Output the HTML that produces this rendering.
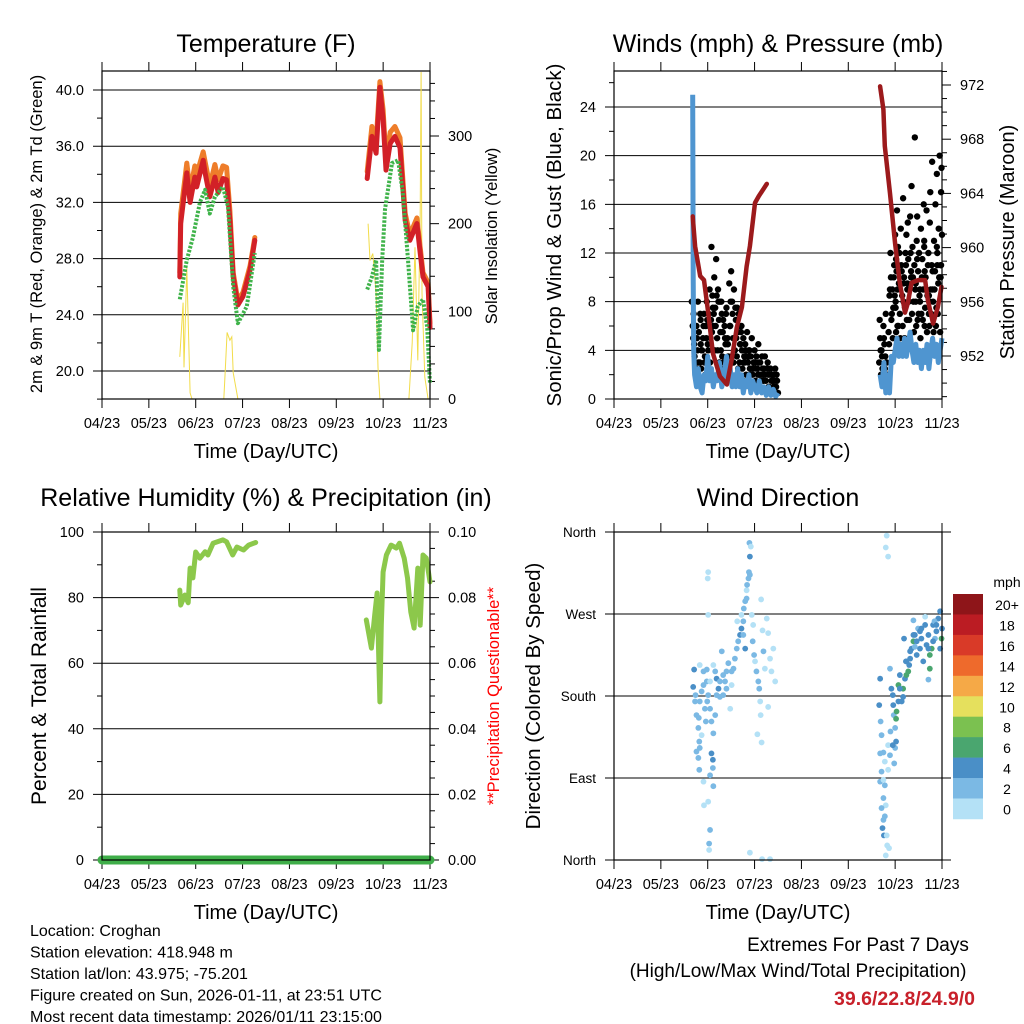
<!DOCTYPE html>
<html><head><meta charset="utf-8">
<style>
html,body{margin:0;padding:0;background:#fff;}
svg{display:block;font-family:"Liberation Sans",Arial,sans-serif;}
</style></head>
<body>
<svg id="c" width="1024" height="1024" viewBox="0 0 1024 1024" xmlns="http://www.w3.org/2000/svg"></svg>
<script>
// ---------- data (time in days from first tick, 0..7) ----------
const xTickLabels = ["04/23","05/23","06/23","07/23","08/23","09/23","10/23","11/23"];
const tempT = [[1.66,1.68,1.81,1.88,1.98,2.02,2.16,2.20,2.30,2.41,2.48,2.58,2.66,2.73,2.80,2.90,3.01,3.16,3.26],
               [5.66,5.76,5.85,5.93,6.00,6.06,6.15,6.25,6.36,6.47,6.57,6.72,6.79,6.85,6.96,7.0]];
const tempRed = [[26.7,30.5,34.1,32.0,33.8,33.1,35.0,34.1,32.4,33.8,32.7,33.7,33.6,30.7,26.7,24.7,25.3,27.2,29.3],
                 [33.7,36.7,35.5,40.2,37.9,34.3,36.2,36.7,35.9,30.7,29.3,30.5,28.4,26.7,26.0,23.1]];
const tempOrange = [[27.0,31.2,34.8,32.8,34.6,34.0,35.6,34.9,33.2,34.7,33.6,34.6,34.5,31.4,27.0,25.0,25.6,27.5,29.5],
                    [34.2,37.4,36.3,40.6,38.6,35.0,37.0,37.4,36.6,31.2,29.7,30.9,28.8,27.0,26.3,23.4]];
const dewT = [[1.66,1.81,1.94,2.09,2.20,2.30,2.41,2.58,2.69,2.80,2.90,3.09,3.26],
              [5.66,5.76,5.85,5.91,5.98,6.04,6.19,6.32,6.42,6.53,6.64,6.74,6.85,6.94,7.0]];
const dewVals = [[25.1,27.9,29.5,32.0,32.9,31.2,32.4,33.1,31.7,26.0,23.4,24.6,28.4],
                 [25.8,26.7,27.9,21.5,27.9,31.5,34.8,35.0,32.7,27.9,22.9,24.6,25.1,23.1,19.1]];
const solarT = [[1.66,1.73,1.75,1.81,1.88,1.92],[2.60,2.62,2.67,2.73,2.77,2.80,2.90],
                [5.68,5.72,5.78,5.85,5.89,5.93,6.55,6.62,6.68,6.74,6.79,6.81,6.83,6.89,6.96]];
const solarVals = [[48,110,36,150,7,0],[0,22,76,67,71,30,0],
                   [200,158,166,121,36,0,0,64,173,44,212,373,121,25,0]];
const presT = [[1.68,1.73,1.84,1.92,2.01,2.11,2.26,2.41,2.51,2.62,2.73,2.83,2.90,3.01,3.09,3.26],
               [5.68,5.75,5.78,5.89,6.00,6.10,6.21,6.27,6.35,6.49,6.64,6.70,6.81,6.91,6.99]];
const presVals = [[962.3,960.1,957.9,957.6,955.2,952.2,950.5,949.9,951.7,954.1,955.6,958.6,960.1,963.3,963.8,964.7],
                  [971.9,970.2,967.5,964.0,960.3,957.4,955.2,955.9,957.4,957.6,957.6,956.1,954.4,955.6,957.1]];
const windT = [[1.68,1.69,1.70,1.72,1.76,1.80,1.84,1.88,1.92,1.96,2.00,2.04,2.08,2.12,2.16,2.20,2.25,2.30,2.35,2.40,2.44,2.48,2.52,2.56,2.60,2.64,2.68,2.72,2.76,2.80,2.84,2.88,2.92,2.96,3.00,3.05,3.10,3.15,3.20,3.25,3.30,3.35,3.40,3.45,3.50],
               [5.68,5.72,5.76,5.80,5.84,5.88,5.92,5.96,6.00,6.04,6.08,6.12,6.16,6.20,6.24,6.28,6.32,6.36,6.40,6.44,6.48,6.52,6.56,6.60,6.64,6.68,6.72,6.76,6.80,6.84,6.88,6.92,6.96,7.00]];
const windVals = [[25,10,4,2,1,2.5,1,0.5,2,1.5,3.5,1.5,2.5,1,2,1.5,3,1,2,3.5,1.5,2.5,1,2,1,2.5,1,2,0.5,1.5,1,2,0.5,1.5,1,0.5,1.5,0.5,1,0.3,1,0.3,0.8,0.2,0.5],
                  [2,1,3,0.5,2,0.5,3.5,3,4,5,3.5,4.5,3.5,5,3.5,4.5,5.5,4,3,4.5,3,4,2.5,4,3,4.5,2.5,4,5,3.5,4.5,3,4,5]];
const gustTimes = [1.66,1.68,1.70,1.71,1.73,1.74,1.76,1.78,1.79,1.81,1.83,1.85,1.86,1.88,1.90,1.92,1.94,1.96,1.98,2.00,2.02,2.04,2.06,2.08,2.10,2.12,2.14,2.16,2.18,2.20,2.22,2.24,2.26,2.28,2.30,2.32,2.34,2.36,2.38,2.40,2.42,2.44,2.46,2.48,2.50,2.52,2.54,2.56,2.58,2.60,2.62,2.64,2.66,2.68,2.70,2.72,2.74,2.76,2.78,2.80,2.82,2.84,2.86,2.88,2.90,2.92,2.94,2.96,2.98,3.00,3.02,3.04,3.06,3.08,3.10,3.12,3.14,3.16,3.18,3.20,3.22,3.24,3.26,3.28,3.30,3.32,3.34,3.36,3.38,3.40,3.42,3.44,3.46,3.48,3.50,
 1.75,1.95,2.05,2.15,2.25,2.35,2.45,2.55,2.65,2.75,2.85,2.95,3.05,1.85,2.03,2.13,2.23,2.33,2.43,2.53,2.63,2.73,2.83,2.93,3.03,
 1.69,1.72,1.77,1.80,1.84,1.87,1.91,1.93,1.97,1.99,2.01,2.07,2.09,2.11,2.17,2.19,2.21,2.27,2.29,2.31,2.37,2.39,2.41,2.47,2.49,2.51,2.57,2.59,2.61,2.67,2.69,2.71,2.77,2.79,2.81,2.87,2.89,2.91,2.97,2.99,3.01,3.07,3.09,3.11,3.17,3.19,3.21,3.27,3.29,3.31,3.37,3.39,3.41,3.45,3.47,
 5.66,5.67,5.68,5.70,5.71,5.72,5.74,5.75,5.77,5.78,5.80,5.82,5.84,5.86,5.88,5.90,5.91,5.92,5.94,5.96,5.98,6.00,6.01,6.03,6.05,6.06,6.08,6.10,6.12,6.13,6.15,6.17,6.19,6.21,6.22,6.24,6.26,6.28,6.30,6.32,6.34,6.35,6.37,6.39,6.41,6.42,6.44,6.46,6.48,6.49,6.51,6.53,6.55,6.56,6.58,6.60,6.62,6.63,6.65,6.67,6.69,6.71,6.72,6.74,6.76,6.78,6.79,6.81,6.83,6.85,6.86,6.88,6.90,6.92,6.93,6.95,6.97,6.98,7.00,
 5.95,6.02,6.07,6.11,6.16,6.20,6.25,6.31,6.36,6.40,6.45,6.50,6.54,6.59,6.64,6.68,6.73,6.77,6.82,6.87,6.91,6.96,6.04,6.27,6.47,6.61,6.75,6.89,6.99,
 5.69,5.73,5.76,5.79,5.83,5.87,5.89,5.93,5.97,5.99,6.02,6.05,6.09,6.14,6.18,6.23,6.29,6.33,6.38,6.43,6.47,6.52,6.57,6.62,6.66,6.70,6.74,6.80,6.84,6.89,6.94,6.98,6.01,6.09,6.18,6.26,6.34,6.44,6.53,6.63,6.72,6.80,6.90,6.97];
const gustValues = [8,6,7,4.5,5,3,6,4,8,5.5,3,6.5,2.5,4,5,7,3.5,6,8,4.5,7,9,5,12.5,8.5,6,10,7.5,11.5,5,9,6.5,8,4,7,5.5,3,6,4.5,7.5,5,3.5,9.5,6,10.5,8,5,9,4,6.5,3.5,5.5,7,3,4.5,6,2.5,5,3.5,4.5,2,5.5,3,4,2.5,3.5,5,2,3,4,1.5,3.5,2.5,4.5,2,3,1.5,3.5,2,2.5,3.5,1.5,2.5,3,1,2,2.5,1.5,2,1,1.5,2.5,1,1.5,0.5,
 2.5,2,3,4,3,2.5,2,3,2.5,1.5,1.5,1,1,4.5,6,7,8,6.5,4.5,7,7.5,4,3.5,2.5,2.5,
 5,3.5,5,3,7,4,6,3,5,6.5,4,6.5,5.5,7.5,6,8.5,4,5.5,8,3.5,5,7,3,6,8,3.5,4,7.5,5,6,4.5,5.5,3,3,4,3.5,4,2,2.5,3,3,2,3,2,2.5,1.5,2,2.5,2,1,2,1.5,2,1,2,
 3,6.5,5,2,4,3.5,1.5,6,4.5,2.5,7,3,1,5.5,8.5,12,10,6.5,9,7.5,11,13.5,8,10.5,6,12.5,9.5,7,14,11,8.5,16.5,10,7.5,12,13.5,9,11.5,6.5,15,10,17.5,12.5,8,11,21.5,9.5,13,6.5,10.5,12,8,14,7,11.5,9,13,6,10,15.5,8.5,12,7,14.5,9,11,19.5,8,13,10.5,16,7.5,12,9.5,14,20,11,17,13.5,
 5,5.5,6,5,6,5,6.5,5,7,5.5,6,7,5,6.5,7.5,5.5,6,7,5.5,6,7,5.5,15.5,14.5,15,16,17,18.5,19,
 4,2.5,5,3.5,2,4.5,9,7,10,8.5,11.5,9,12,10.5,9.5,11,8,12,10,9,11.5,8.5,10,12.5,9,11,8,10.5,9,12.5,10,11,7.5,9.5,8,9.5,10.5,8,9,10.5,8.5,9,11,10];
const rhT = [[1.66,1.68,1.77,1.84,1.88,1.94,2.00,2.09,2.20,2.26,2.37,2.58,2.66,2.79,2.88,3.02,3.13,3.28],
             [5.64,5.75,5.82,5.87,5.93,5.96,6.00,6.07,6.17,6.28,6.35,6.45,6.52,6.59,6.66,6.74,6.79,6.85,6.92,7.0]];
const rhVals = [[82.3,77.7,80.8,78.4,89,86,93.9,92,94,93,96.6,97.6,97,93,95.4,94.5,96,96.8],
                [73.2,64.6,74.7,81.4,48.2,71.6,87.8,93,96,95.1,96.6,92,86,75.6,70.7,89,71.6,93,92,84.8]];
const precipT = [0,7];
const precipVals = [0,0];
const dirTimes = [1.71,1.69,1.73,1.76,1.80,1.82,1.83,1.80,1.82,1.91,1.92,2.01,2.05,2.03,2.03,2.01,2.00,2.01,1.98,1.98,2.01,2.05,2.08,2.12,2.08,2.11,2.11,2.12,2.05,2.16,2.19,2.23,2.26,2.30,2.33,2.37,2.40,2.44,2.48,2.51,2.55,2.58,2.62,2.63,2.65,2.69,2.72,2.76,2.77,2.80,2.83,2.80,2.83,2.87,2.88,2.90,2.89,2.92,2.94,2.97,2.96,2.99,3.01,3.04,3.08,3.10,3.12,3.13,3.14,3.17,3.19,3.22,3.26,3.29,3.33,3.36,3.40,3.44,3.29,3.06,3.15,2.90,3.16,3.33,1.83,1.87,1.91,1.94,1.96,1.87,1.76,2.05,2.12,2.19,2.26,2.33,2.40,2.51,2.90,2.84,2.76,2.72,1.83,1.81,1.74,1.91,1.99,2.16,
 5.82,5.80,5.85,5.68,5.66,5.69,5.71,5.75,5.68,5.71,5.68,5.78,5.75,5.80,5.71,5.78,5.75,5.73,5.76,5.82,5.83,5.80,5.87,5.89,5.92,5.95,5.96,5.97,6.00,6.02,6.00,5.98,5.89,5.85,6.03,6.02,6.07,6.10,6.14,6.17,6.21,6.23,6.24,6.28,6.30,6.35,6.39,6.42,6.46,6.49,6.53,6.56,6.60,6.64,6.67,6.71,6.74,6.78,6.81,6.85,6.88,6.92,6.96,6.99,7.0,6.64,6.39,6.19,6.71,6.74,6.84,6.96,6.32,6.42,6.53,6.07,6.10,6.17,5.90,5.95,5.85,5.78,5.75,6.39,6.46,6.56,6.71,6.81,6.88,6.32,6.24];
const dirDegrees = [209,190,174,159,145,130,123,112,99,86,60,64,33,18,11,316,309,269,209,196,181,166,152,139,117,110,101,81,93,207,199,188,179,229,203,196,188,216,166,207,210,221,232,262,240,247,254,262,276,284,287,232,296,309,316,333,348,344,269,258,240,225,218,207,196,188,174,159,286,252,229,210,265,249,221,207,232,196,168,138,129,8,1,1,174,185,192,166,152,137,119,196,214,181,196,181,207,192,313,302,247,269,214,156,181,207,174,159,
 356,343,333,199,170,152,137,118,117,97,86,82,68,60,57,48,44,35,27,27,16,5,13,210,188,181,170,159,145,130,123,106,115,126,163,155,192,203,174,188,199,218,203,207,214,232,240,247,225,254,232,243,218,258,236,247,225,232,258,243,251,265,273,243,254,267,263,243,198,210,262,232,221,234,251,174,188,179,141,126,99,108,88,247,240,254,232,240,258,229,218];
const dirSpeeds = [5,5,3,3,3,3,3,3,3,1,1,1,3,3,1,1,1,1,3,3,3,3,3,3,5,5,3,3,3,3,5,5,3,3,3,3,3,3,1,3,3,3,3,1,3,5,5,3,3,3,3,5,1,3,3,5,3,1,1,1,3,3,1,3,3,3,1,1,1,1,3,1,1,1,1,1,1,1,1,1,1,1,1,1,3,3,3,3,3,1,3,1,1,3,3,3,3,1,3,3,3,1,1,3,3,3,3,3,
 1,1,1,5,5,3,3,3,3,3,3,3,3,1,3,3,3,5,5,1,1,1,1,3,5,5,5,3,3,5,3,3,3,1,7,7,7,5,5,7,5,5,7,7,5,5,7,5,5,3,5,5,5,5,5,5,7,7,5,3,5,5,5,7,5,1,3,5,3,7,3,5,5,3,5,5,5,5,3,5,1,1,1,5,5,5,5,5,5,5,5];
const speedBinLabels = ["20+","18","16","14","12","10","8","6","4","2","0"];
const speedBinColors = ["#8e1519","#bb1c23","#d93a28","#ee6a2c","#f5a947","#e5e05d","#7bc150","#4aa66f","#4a8fc7","#7bb9e4","#b4e1f6"];

// ---------- helpers ----------
const NS = "http://www.w3.org/2000/svg";
const svg = document.getElementById('c');
const TICK = 14.5;
function mk(tag, attrs, parent){ const e=document.createElementNS(NS,tag); for(const k in attrs) e.setAttribute(k,attrs[k]); (parent||svg).appendChild(e); return e; }
function txt(s, x, y, size, anchor, parent, extra){ const e=mk('text',Object.assign({x:x,y:y,'font-size':size,'text-anchor':anchor||'middle',fill:'#000'},extra||{}),parent); e.textContent=s; return e; }
function lin(d0,d1,r0,r1){ return v => r0 + (v-d0)*(r1-r0)/(d1-d0); }

function frame(p, name){
  const g = mk('g',{});
  
  
  return g;
}
function xAxis(g, p){
  const xs = lin(0,7,p.x0,p.x1);
  for(let i=0;i<xTickLabels.length;i++){
    const x = xs(i);
    mk('line',{x1:x,y1:p.y0-9,x2:x,y2:p.y0,stroke:'#000','stroke-width':1},g);
    mk('line',{x1:x,y1:p.y1,x2:x,y2:p.y1+9,stroke:'#000','stroke-width':1},g);
    const t = txt(xTickLabels[i], x, p.y1+29, TICK, 'middle', g);
    
    
  }
  const tt = txt('Time (Day/UTC)', (p.x0+p.x1)/2, p.y1+59, 20, 'middle', g);
  
  
  return xs;
}
function border(g,p){ mk('rect',{x:p.x0,y:p.y0,width:p.x1-p.x0,height:p.y1-p.y0,fill:'none',stroke:'#000','stroke-width':1.2},g); }
function polyline(g, xs, ys, T, V, attrs, name){
  const pts = T.map((t,i)=>xs(t).toFixed(1)+','+ys(V[i]).toFixed(1)).join(' ');
  const e = mk('polyline',Object.assign({points:pts,fill:'none'},attrs),g);
  
  
  return e;
}

// ---------- Panel 1: Temperature ----------
(function(){
  const p={x0:102,x1:430,y0:71,y1:399};
  const g=frame(p,'temperature-panel');
  const ys=lin(20,40,371,90), yr=lin(0,300,399,136);
  const xs=xAxis(g,p);
  const lab=[20,24,28,32,36,40];
  lab.forEach(v=>{ const y=ys(v); mk('line',{x1:p.x0-9,y1:y,x2:p.x1,y2:y,stroke:'#000','stroke-width':1},g);
    const t=txt(v.toFixed(1),p.x0-18,y+5,TICK,'end',g);  });
  for(let v=18;v<=41;v+=2){ if(v%4) mk('line',{x1:p.x0-5,y1:ys(v),x2:p.x0,y2:ys(v),stroke:'#000'},g); }
  [0,100,200,300].forEach(v=>{ const y=yr(v); mk('line',{x1:p.x1,y1:y,x2:p.x1+9,y2:y,stroke:'#000'},g);
    const t=txt(String(v),p.x1+18,y+5,TICK,'start',g);  });
  for(let v=20;v<=360;v+=20){ if(v%100) mk('line',{x1:p.x1,y1:yr(v),x2:p.x1+5,y2:yr(v),stroke:'#000'},g); }
  solarT.forEach((T,i)=>polyline(g,xs,yr,T,solarVals[i],{stroke:'#f2dc4a','stroke-width':1},'solar-line'));
  tempT.forEach((T,i)=>polyline(g,xs,ys,T,tempOrange[i],{stroke:'#ee7d2a','stroke-width':5,'stroke-linejoin':'round','stroke-linecap':'round'},'temp-9m-line'));
  tempT.forEach((T,i)=>polyline(g,xs,ys,T,tempRed[i],{stroke:'#d22027','stroke-width':5,'stroke-linejoin':'round','stroke-linecap':'round'},'temp-2m-line'));
  dewT.forEach((T,i)=>polyline(g,xs,ys,T,dewVals[i],{stroke:'#3fb34a','stroke-width':4,'stroke-dasharray':'2.5 1.5','stroke-linejoin':'round'},'dewpoint-line'));
  border(g,p);
  txt('Temperature (F)',266,52,25,'middle',g,{});
  txt('2m & 9m T (Red, Orange) & 2m Td (Green)',0,0,16.5,'middle',g,{transform:'translate(42,234) rotate(-90)',});
  txt('Solar Insolation (Yellow)',0,0,16.5,'middle',g,{transform:'translate(497,236) rotate(-90)',});
})();

// ---------- Panel 2: Winds & Pressure ----------
(function(){
  const p={x0:614,x1:942,y0:71,y1:399};
  const g=frame(p,'winds-panel');
  const ys=lin(0,24,399,107), yr=lin(952,972,356,85);
  const xs=xAxis(g,p);
  [0,4,8,12,16,20,24].forEach(v=>{ const y=ys(v); mk('line',{x1:p.x0-9,y1:y,x2:p.x1,y2:y,stroke:'#000'},g);
    const t=txt(String(v),p.x0-18,y+5,TICK,'end',g);  });
  for(let v=2;v<=26;v+=4) mk('line',{x1:p.x0-5,y1:ys(v),x2:p.x0,y2:ys(v),stroke:'#000'},g);
  [952,956,960,964,968,972].forEach(v=>{ const y=yr(v); mk('line',{x1:p.x1,y1:y,x2:p.x1+9,y2:y,stroke:'#000'},g);
    const t=txt(String(v),p.x1+18,y+5,TICK,'start',g);  });
  for(let v=949;v<=973;v++){ if(v%4) mk('line',{x1:p.x1,y1:yr(v),x2:p.x1+5,y2:yr(v),stroke:'#000'},g); }
  for(let i=0;i<gustTimes.length;i++){
    const c=mk('circle',{cx:xs(gustTimes[i]),cy:ys(gustValues[i]),r:3.2,fill:'#000'},g);
    
    
  }
  windT.forEach((T,i)=>polyline(g,xs,ys,T,windVals[i],{stroke:'#4f95d0','stroke-width':5,'stroke-linejoin':'round'},'wind-line'));
  presT.forEach((T,i)=>polyline(g,xs,yr,T,presVals[i],{stroke:'#9c1a1c','stroke-width':4.5,'stroke-linejoin':'round','stroke-linecap':'round'},'pressure-line'));
  border(g,p);
  txt('Winds (mph) & Pressure (mb)',778,52,25,'middle',g,{});
  txt('Sonic/Prop Wind & Gust (Blue, Black)',0,0,20.5,'middle',g,{transform:'translate(561,235) rotate(-90)',});
  txt('Station Pressure (Maroon)',0,0,20,'middle',g,{transform:'translate(1014,242) rotate(-90)',});
})();

// ---------- Panel 3: RH & Precip ----------
(function(){
  const p={x0:102,x1:430,y0:532,y1:860};
  const g=frame(p,'humidity-panel');
  const ys=lin(0,100,860,532), yr=lin(0,0.1,860,532);
  const xs=xAxis(g,p);
  [0,20,40,60,80,100].forEach(v=>{ const y=ys(v); mk('line',{x1:p.x0-9,y1:y,x2:p.x1+9,y2:y,stroke:'#000'},g);
    const t=txt(String(v),p.x0-18,y+5,TICK,'end',g);  
    const t2=txt((v/1000).toFixed(2),p.x1+18,y+5,TICK,'start',g);  });
  for(let v=10;v<=90;v+=20){ mk('line',{x1:p.x0-5,y1:ys(v),x2:p.x0,y2:ys(v),stroke:'#000'},g); }
  for(let v=5;v<100;v+=5){ if(v%20) mk('line',{x1:p.x1,y1:ys(v),x2:p.x1+5,y2:ys(v),stroke:'#000'},g); }
  rhT.forEach((T,i)=>polyline(g,xs,ys,T,rhVals[i],{stroke:'#8cc84b','stroke-width':5,'stroke-linejoin':'round','stroke-linecap':'round'},'rh-line'));
  polyline(g,xs,yr,precipT,precipVals,{stroke:'#3fae49','stroke-width':9,'stroke-linecap':'round'},'precip-line');
  border(g,p);
  txt('Relative Humidity (%) & Precipitation (in)',266,506,25,'middle',g,{});
  txt('Percent & Total Rainfall',0,0,21,'middle',g,{transform:'translate(46,696) rotate(-90)',});
  txt('**Precipitation Questionable**',0,0,16.5,'middle',g,{transform:'translate(499,696) rotate(-90)',fill:'#ff0000',});
})();

// ---------- Panel 4: Wind Direction ----------
(function(){
  const p={x0:614,x1:942,y0:532,y1:860};
  const g=frame(p,'wind-direction-panel');
  const ys=lin(0,360,860,532);
  const xs=xAxis(g,p);
  const dirLabels=["North","East","South","West","North"];
  dirLabels.forEach((s,i)=>{ const y=ys(i*90); mk('line',{x1:p.x0-9,y1:y,x2:p.x1+9,y2:y,stroke:'#000'},g);
    const t=txt(s,p.x0-18,y+5,TICK-1,'end',g);  });
  function colorFor(s){ const idx=Math.min(10,Math.floor(s/2)); return speedBinColors[10-idx]; }
  for(let i=0;i<dirTimes.length;i++){
    const c=mk('circle',{cx:xs(dirTimes[i]),cy:ys(dirDegrees[i]),r:2.9,fill:colorFor(dirSpeeds[i])},g);
    
    
  }
  border(g,p);
  txt('Wind Direction',778,506,25,'middle',g,{});
  txt('Direction (Colored By Speed)',0,0,20.5,'middle',g,{transform:'translate(540,696) rotate(-90)',});
  // colorbar
  const cb=mk('g',{},svg);
  
  
  const h=20.45;
  speedBinColors.forEach((col,i)=>{
    const r=mk('rect',{x:953,y:594+i*h,width:30,height:h+0.3,fill:col},cb);
    
    
    const t=txt(speedBinLabels[i],1007,594+i*h+16,14,'middle',cb);
    
    
  });
  txt('mph',1007,587,14,'middle',cb,{});
})();

// ---------- footer ----------
const foot=["Location: Croghan","Station elevation: 418.948 m","Station lat/lon: 43.975; -75.201","Figure created on Sun, 2026-01-11, at 23:51 UTC","Most recent data timestamp: 2026/01/11 23:15:00"];
foot.forEach((s,i)=>{ const t=txt(s,30,936+i*21.5,16,'start');   });
txt('Extremes For Past 7 Days',858,951,19,'middle',svg,{});
txt('(High/Low/Max Wind/Total Precipitation)',798,977,19,'middle',svg,{});
txt('39.6/22.8/24.9/0',975,1005,19.5,'end',svg,{fill:'#c8202a','font-weight':'bold',});
</script>
</body></html>
